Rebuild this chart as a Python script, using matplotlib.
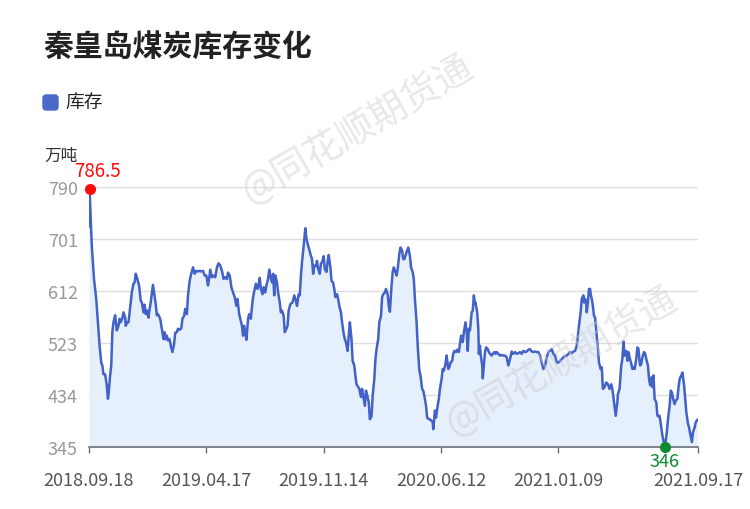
import matplotlib
matplotlib.use("Agg")
import matplotlib.pyplot as plt
from matplotlib.patches import FancyBboxPatch
import pandas as pd

plt.rcParams['font.family'] = ['Noto Sans CJK SC', 'DejaVu Sans']

START = "2018-09-18"
END = "2021-09-17"

# days after START
days = [0, 1, 5, 9, 13, 16, 19, 22, 24, 26, 29, 32, 34, 35, 38, 40, 42, 44, 47, 50,
        53, 55, 57, 60, 62, 65, 66, 69, 71, 74, 77, 80, 82, 84, 87, 90, 93, 95, 98, 100,
        102, 104, 107, 108, 111, 114, 115, 117, 120, 122, 124, 128, 129, 132, 134, 136, 138, 140, 142, 145,
        147, 150, 153, 155, 158, 160, 163, 166, 168, 171, 173, 176, 178, 181, 183, 187, 190, 193, 196, 199,
        202, 205, 208, 211, 214, 216, 218, 221, 224, 227, 230, 233, 236, 239, 242, 245, 248, 250, 253, 256,
        259, 262, 265, 267, 270, 272, 275, 277, 279, 282, 283, 286, 288, 291, 293, 295, 298, 300, 303, 305,
        307, 309, 312, 314, 317, 319, 322, 324, 326, 329, 331, 333, 335, 338, 340, 343, 345, 347, 350, 352,
        355, 357, 359, 362, 366, 369, 372, 374, 377, 379, 381, 383, 386, 389, 391, 394, 396, 398, 401, 403,
        405, 408, 410, 412, 415, 417, 420, 422, 424, 427, 429, 431, 434, 436, 439, 441, 443, 446, 448, 450,
        453, 455, 458, 460, 462, 465, 467, 469, 472, 474, 477, 479, 481, 484, 486, 489, 491, 493, 496, 498,
        501, 503, 505, 508, 510, 513, 515, 517, 520, 522, 525, 527, 529, 532, 534, 537, 539, 541, 544, 546,
        548, 551, 553, 555, 558, 560, 563, 565, 567, 570, 572, 574, 577, 579, 582, 584, 586, 589, 591, 594,
        596, 599, 601, 603, 606, 608, 611, 613, 615, 618, 619, 622, 624, 626, 629, 631, 634, 636, 638, 641,
        643, 646, 648, 650, 653, 655, 657, 660, 662, 665, 667, 669, 672, 674, 677, 679, 681, 683, 685, 688,
        690, 692, 694, 695, 698, 700, 701, 703, 704, 707, 708, 710, 712, 714, 717, 719, 721, 724, 726, 729,
        731, 733, 736, 739, 742, 745, 748, 751, 754, 757, 760, 763, 766, 769, 772, 775, 778, 781, 784, 787,
        790, 793, 796, 799, 802, 805, 808, 811, 814, 817, 820, 823, 826, 829, 832, 835, 838, 841, 844, 847,
        850, 853, 856, 859, 862, 865, 868, 871, 874, 877, 879, 881, 884, 886, 889, 890, 892, 894, 895, 897,
        899, 901, 902, 904, 906, 908, 910, 912, 915, 917, 920, 922, 924, 927, 930, 933, 936, 939, 941, 944,
        947, 950, 951, 954, 957, 959, 961, 963, 966, 968, 970, 972, 975, 977, 979, 981, 984, 986, 988, 989,
        991, 993, 995, 998, 1000, 1002, 1005, 1007, 1009, 1012, 1013, 1015, 1017, 1020, 1022, 1024, 1026, 1029, 1031, 1035,
        1037, 1039, 1041, 1044, 1046, 1048, 1051, 1053, 1055, 1058, 1060, 1062, 1065, 1067, 1070, 1072, 1074, 1077, 1079, 1081,
        1084, 1086, 1089, 1091, 1094]

stock = [723, 786.5, 690, 633, 599, 559, 519, 490, 485, 470, 470, 451, 428, 433, 468, 485, 542, 559, 571, 545,
         553, 565, 559, 566, 576, 567, 553, 559, 559, 585, 610, 625, 627, 642, 633, 622, 596, 593, 576, 589,
         573, 579, 567, 576, 593, 616, 623, 610, 590, 571, 573, 565, 559, 542, 530, 542, 530, 536, 528, 530,
         519, 508, 522, 541, 542, 548, 546, 549, 565, 570, 582, 573, 605, 630, 639, 653, 642, 647, 646, 647,
         646, 647, 639, 639, 622, 634, 649, 636, 639, 636, 653, 660, 656, 647, 633, 636, 633, 644, 639, 619,
         610, 602, 587, 599, 573, 565, 553, 536, 553, 536, 529, 565, 573, 565, 585, 602, 616, 625, 616, 623,
         635, 616, 607, 619, 610, 622, 633, 649, 639, 627, 642, 605, 639, 627, 610, 593, 576, 579, 570, 542,
         548, 553, 579, 590, 593, 605, 596, 587, 607, 605, 639, 662, 690, 720, 702, 690, 684, 676, 667, 642,
         656, 655, 664, 650, 642, 659, 664, 672, 650, 645, 662, 674, 653, 630, 627, 616, 602, 607, 599, 587,
         576, 559, 539, 530, 525, 510, 536, 559, 530, 493, 485, 468, 453, 448, 445, 431, 445, 433, 416, 442,
         431, 422, 393, 398, 433, 462, 496, 513, 530, 559, 570, 602, 607, 610, 616, 607, 587, 577, 622, 645,
         653, 645, 639, 650, 676, 687, 682, 667, 667, 676, 682, 687, 673, 653, 645, 633, 599, 559, 519, 476,
         468, 445, 442, 433, 416, 396, 393, 393, 391, 388, 376, 408, 396, 411, 428, 445, 462, 479, 476, 488,
         502, 479, 482, 490, 493, 505, 510, 508, 512, 508, 522, 536, 525, 542, 559, 542, 510, 548, 545, 576,
         579, 605, 590, 593, 576, 548, 505, 519, 505, 485, 463, 485, 508, 516, 513, 508, 505, 502, 505, 508,
         505, 508, 505, 502, 503, 502, 502, 499, 485, 496, 509, 505, 508, 505, 506, 508, 505, 510, 508, 509,
         512, 513, 509, 508, 509, 508, 508, 502, 490, 479, 485, 499, 508, 510, 513, 505, 502, 490, 490, 493,
         496, 499, 501, 502, 505, 508, 506, 509, 510, 519, 536, 553, 576, 599, 605, 593, 599, 590, 576, 593,
         616, 616, 607, 599, 587, 570, 567, 545, 515, 490, 479, 482, 445, 448, 456, 453, 445, 453, 445, 422,
         399, 422, 436, 445, 485, 496, 526, 502, 510, 493, 508, 499, 488, 479, 482, 479, 496, 516, 513, 502,
         485, 488, 499, 508, 505, 496, 485, 462, 451, 465, 448, 468, 428, 422, 399, 398, 399, 379, 365, 346,
         356, 371, 393, 416, 442, 439, 425, 419, 425, 428, 448, 462, 468, 473, 451, 428, 405, 385, 379, 368,
         354, 371, 379, 388, 392]

y_ticks = [345, 434, 523, 612, 701, 790]
x_tick_dates = ["2018-09-18", "2019-04-17", "2019-11-14", "2020-06-12", "2021-01-09", "2021-09-17"]
x_tick_labels = ["2018.09.18", "2019.04.17", "2019.11.14", "2020.06.12", "2021.01.09", "2021.09.17"]

LINE = "#4262c8"
FILL = "#e6effc"

dates = pd.Timestamp(START) + pd.to_timedelta(days, unit="D")

fig = plt.figure(figsize=(7.5, 5.1), dpi=100)
ax = fig.add_axes([89 / 750, 1 - 448.3 / 510, 609 / 750, 260 / 510])

ax.fill_between(dates, stock, y_ticks[0], color=FILL, lw=0, zorder=1)
ax.plot(dates, stock, color=LINE, lw=1.8, zorder=3)

# max / min markers
i_max = stock.index(max(stock))
i_min = stock.index(min(stock))
ax.plot(dates[i_max], stock[i_max], "o", color="#ff0a0a", ms=7, zorder=5, clip_on=False)
ax.plot(dates[i_min], stock[i_min], "o", color="#0d8a2e", ms=7, zorder=5, clip_on=False)
ax.annotate("786.5", (dates[i_max], stock[i_max]), xytext=(6, 6), textcoords="offset points",
            ha="center", va="bottom", color="#ff0a0a", fontsize=13.5, fontweight="medium")
ax.annotate("346", (dates[i_min], stock[i_min]), xytext=(0, -4), textcoords="offset points",
            ha="center", va="top", color="#0d8a2e", fontsize=13, fontweight="medium")

ax.set_ylim(y_ticks[0], y_ticks[-1])
ax.set_xlim(pd.Timestamp(START), pd.Timestamp(END))
ax.set_yticks(y_ticks)
ax.set_yticklabels([str(v) for v in y_ticks])
ax.set_xticks(pd.to_datetime(x_tick_dates))
ax.set_xticklabels(x_tick_labels)

ax.grid(axis="y", color="#dddddd", lw=1)
ax.set_axisbelow(True)
for s in ["top", "right", "left"]:
    ax.spines[s].set_visible(False)
ax.spines["bottom"].set_color("#6e7079")
ax.spines["bottom"].set_linewidth(1.2)
ax.tick_params(axis="y", length=0, pad=8, labelsize=13, labelcolor="#999999")
ax.tick_params(axis="x", length=4, width=1, color="#6e7079", pad=13, labelsize=13, labelcolor="#555555")

# title, legend, unit
fig.text(43 / 750, 1 - 47 / 510, "秦皇岛煤炭库存变化", fontsize=21.5, fontweight="bold",
         color="#222222", ha="left", va="center")
fig.patches.append(FancyBboxPatch((0.43, (510 - 111) / 100), 0.15, 0.15,
                                  boxstyle="round,pad=0,rounding_size=0.03",
                                  transform=fig.dpi_scale_trans, color="#4a69c9", figure=fig))
fig.text(65 / 750, 1 - 103 / 510, "库存", fontsize=13.5, color="#222222", ha="left", va="center")
fig.text(44 / 750, 1 - 156 / 510, "万吨", fontsize=12, color="#333333", ha="left", va="center")

# watermarks
for cx, cy in [(358, 130), (562, 362)]:
    fig.text(cx / 750, 1 - cy / 510, "@同花顺期货通", fontsize=27, color="#cccccc", alpha=0.45,
             rotation=30, ha="center", va="center", rotation_mode="anchor", zorder=10)

fig.savefig("out.png", dpi=100)
